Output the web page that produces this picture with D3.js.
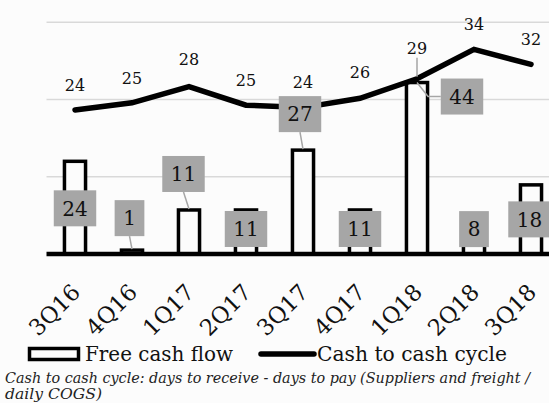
<!DOCTYPE html>
<html>
<head>
<meta charset="utf-8">
<script src="https://cdn.jsdelivr.net/npm/d3@7"></script>
<style>
  html, body { margin: 0; padding: 0; background: #fcfcfc; }
  svg { display: block; }
  text { font-family: "DejaVu Serif", "Liberation Serif", serif; fill: #111; }
</style>
</head>
<body>
<svg id="chart" width="549" height="403"></svg>
<script>
// ---- data ----
const categories = ["3Q16", "4Q16", "1Q17", "2Q17", "3Q17", "4Q17", "1Q18", "2Q18", "3Q18"];
const freeCashFlow = [24.0, 1.0, 11.4, 11.4, 26.9, 11.4, 44.4, 8.0, 17.9];
const cashCycle = [24.0, 25.2, 27.9, 24.8, 24.4, 25.95, 29.2, 34.1, 31.6];
const barTicks = [0, 20, 40, 60];
const legendLabels = ["Free cash flow", "Cash to cash cycle"];
const footnote = ["Cash to cash cycle: days to receive - days to pay (Suppliers and freight /", "daily COGS)"];

// ---- layout (manually placed label offsets, px) ----
const barLabelOffset = [[0, 47], [-2.5, -32], [-5.5, -36], [0, 19], [-3, -36], [0, 19], [45, 14], [0, 6], [-1.5, 34.5]];
const lineLabelLift = [25, 25, 27, 25, 25, 26, 31, 25, 25];
const lineLabelLeader = [false, false, false, false, false, false, true, false, false];

const svg = d3.select("#chart");
const W = 549, H = 403;
const bg = "#fcfcfc";
const plotTop = 22.3, plotBottom = 254;

const x = d3.scaleBand().domain(categories).range([46.5, 559.5]).padding(0);
const yBar = d3.scaleLinear().domain([0, 60]).range([plotBottom, plotTop]);
const yLine = d3.scaleLinear().domain([0, 40]).range([plotBottom, 14]);
const cx = d => x(d) + x.bandwidth() / 2;
const barW = x.step() * 0.37;

svg.append("rect").attr("width", W).attr("height", H).attr("fill", bg);

// gridlines
svg.append("g").selectAll("line").data(barTicks.filter(t => t > 0)).join("line")
  .attr("x1", 46.5).attr("x2", W)
  .attr("y1", d => yBar(d)).attr("y2", d => yBar(d))
  .attr("stroke", "#d9d9d9").attr("stroke-width", 1.5);

// bars
const data = categories.map((c, i) => ({ c, i, v: freeCashFlow[i], l: cashCycle[i] }));
svg.append("g").selectAll("rect").data(data).join("rect")
  .attr("x", d => cx(d.c) - barW / 2)
  .attr("y", d => yBar(d.v))
  .attr("width", barW)
  .attr("height", d => yBar(0) - yBar(d.v))
  .attr("fill", bg).attr("stroke", "#000").attr("stroke-width", 3.5);

// baseline axis
svg.append("line").attr("x1", 46.5).attr("x2", W)
  .attr("y1", yBar(0)).attr("y2", yBar(0))
  .attr("stroke", "#000").attr("stroke-width", 4.5);

// line
const line = d3.line().x(d => cx(d.c)).y(d => yLine(d.l));
svg.append("path").datum(data).attr("d", line)
  .attr("fill", "none").attr("stroke", "#000").attr("stroke-width", 5.5)
  .attr("stroke-linecap", "round").attr("stroke-linejoin", "miter");

const fmt = d3.format(".0f");

// line labels
const ll = svg.append("g");
data.forEach(d => {
  const px = cx(d.c), py = yLine(d.l);
  const ly = py - lineLabelLift[d.i];
  ll.append("text").attr("x", px).attr("y", ly).attr("dy", "0.36em")
    .attr("text-anchor", "middle").attr("font-size", 16).text(fmt(d.l));
  if (lineLabelLeader[d.i]) {
    ll.append("line").attr("x1", px).attr("x2", px).attr("y1", ly + 10).attr("y2", py - 2)
      .attr("stroke", "#a6a6a6").attr("stroke-width", 1.5);
  }
});

// bar labels with boxes and leaders
const bl = svg.append("g");
data.forEach(d => {
  const bx = cx(d.c), by = yBar(d.v);
  const lx = bx + barLabelOffset[d.i][0], ly = by + barLabelOffset[d.i][1];
  const g = bl.append("g");
  const leader = g.append("path").attr("fill", "none").attr("stroke", "#a6a6a6").attr("stroke-width", 1.5);
  const rect = g.append("rect").attr("fill", "#a6a6a6");
  const t = g.append("text").attr("x", lx).attr("y", ly).attr("dy", "0.36em")
    .attr("text-anchor", "middle").attr("font-size", 20).text(fmt(d.v));
  const tw = t.node().getComputedTextLength();
  const bw = tw + 17, bh = 36;
  rect.attr("x", lx - bw / 2).attr("y", ly - bh / 2).attr("width", bw).attr("height", bh);
  if (lx - bw / 2 > bx + barW / 2) {
    leader.attr("d", `M${lx - bw / 2},${ly}H${bx + 11}L${bx},${by}`);
  } else if (ly + bh / 2 < by - 3) {
    leader.attr("d", `M${lx},${ly + bh / 2}L${bx},${by - 1}`);
  }
});

// x tick labels
svg.append("g").selectAll("text").data(categories).join("text")
  .attr("transform", d => `translate(${cx(d) + 1},288) rotate(-45)`)
  .attr("text-anchor", "end").attr("dy", "0.36em")
  .attr("font-size", 22.5).text(d => d);

// legend
const lg = svg.append("g");
lg.append("rect").attr("x", 29.5).attr("y", 348.5).attr("width", 49).attr("height", 11)
  .attr("fill", bg).attr("stroke", "#000").attr("stroke-width", 3.5);
lg.append("text").attr("x", 85).attr("y", 361).attr("font-size", 21)
  .attr("textLength", 148).attr("lengthAdjust", "spacingAndGlyphs").text(legendLabels[0]);
lg.append("line").attr("x1", 261).attr("x2", 314).attr("y1", 354).attr("y2", 354)
  .attr("stroke", "#000").attr("stroke-width", 5.5).attr("stroke-linecap", "round");
lg.append("text").attr("x", 317).attr("y", 361).attr("font-size", 21)
  .attr("textLength", 190).attr("lengthAdjust", "spacingAndGlyphs").text(legendLabels[1]);

// footnote
svg.append("text").attr("x", 5).attr("y", 383).attr("font-size", 14)
  .attr("font-style", "italic").attr("textLength", 525).attr("lengthAdjust", "spacingAndGlyphs")
  .style("fill", "#222").text(footnote[0]);
svg.append("text").attr("x", 5).attr("y", 398.5).attr("font-size", 14)
  .attr("font-style", "italic").attr("textLength", 97).attr("lengthAdjust", "spacingAndGlyphs")
  .style("fill", "#222").text(footnote[1]);
</script>
</body>
</html>
